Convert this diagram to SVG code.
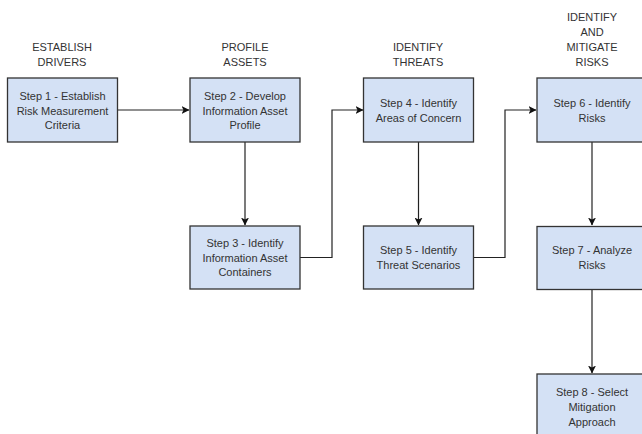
<svg xmlns="http://www.w3.org/2000/svg" width="642" height="434" viewBox="0 0 642 434">
<style>
.box{fill:#d4e1f5;stroke:#333;stroke-width:1.3}
.t{font-family:"Liberation Sans",Arial,sans-serif;font-size:11px;fill:#333;text-anchor:middle}
.c{fill:none;stroke:#222;stroke-width:1.2}
</style>
<defs>
<marker id="a" viewBox="0 0 8 8" refX="7.5" refY="4" markerWidth="8" markerHeight="8" markerUnits="userSpaceOnUse" orient="auto">
<path d="M0,0 L8,4 L0,8 L2,4 Z" fill="#111"/>
</marker>
</defs>
<rect width="642" height="434" fill="#fff"/>
<g id="headers">
<text class="t" x="62" y="51">ESTABLISH</text>
<text class="t" x="62" y="66">DRIVERS</text>
<text class="t" x="245" y="51">PROFILE</text>
<text class="t" x="245" y="66">ASSETS</text>
<text class="t" x="418" y="51">IDENTIFY</text>
<text class="t" x="418" y="66">THREATS</text>
<text class="t" x="592" y="21">IDENTIFY</text>
<text class="t" x="592" y="36">AND</text>
<text class="t" x="592" y="51">MITIGATE</text>
<text class="t" x="592" y="66">RISKS</text>
</g>
<g id="connectors">
<path class="c" d="M117,110 H189" marker-end="url(#a)"/>
<path class="c" d="M245,142 V225" marker-end="url(#a)"/>
<path class="c" d="M300,257.5 H332 V110 H363" marker-end="url(#a)"/>
<path class="c" d="M418.5,142 V225" marker-end="url(#a)"/>
<path class="c" d="M473,257.5 H505 V110 H536" marker-end="url(#a)"/>
<path class="c" d="M592,142 V225" marker-end="url(#a)"/>
<path class="c" d="M592,289 V373" marker-end="url(#a)"/>
</g>
<g id="step1"><rect class="box" x="7.5" y="78" width="110" height="64"/>
<text class="t" x="62.5" y="100">Step 1 - Establish</text>
<text class="t" x="62.5" y="114.5">Risk Measurement</text>
<text class="t" x="62.5" y="129">Criteria</text></g>
<g id="step2"><rect class="box" x="190" y="78" width="110" height="64"/>
<text class="t" x="245" y="100">Step 2 - Develop</text>
<text class="t" x="245" y="114.5">Information Asset</text>
<text class="t" x="245" y="129">Profile</text></g>
<g id="step3"><rect class="box" x="190" y="226" width="110" height="63"/>
<text class="t" x="245" y="247">Step 3 - Identify</text>
<text class="t" x="245" y="261.5">Information Asset</text>
<text class="t" x="245" y="276">Containers</text></g>
<g id="step4"><rect class="box" x="363.5" y="78" width="110" height="64"/>
<text class="t" x="418.5" y="107">Step 4 - Identify</text>
<text class="t" x="418.5" y="121.5">Areas of Concern</text></g>
<g id="step5"><rect class="box" x="363.5" y="226" width="110" height="63"/>
<text class="t" x="418.5" y="254">Step 5 - Identify</text>
<text class="t" x="418.5" y="268.5">Threat Scenarios</text></g>
<g id="step6"><rect class="box" x="537" y="78" width="110" height="64"/>
<text class="t" x="592" y="107">Step 6 - Identify</text>
<text class="t" x="592" y="121.5">Risks</text></g>
<g id="step7"><rect class="box" x="537" y="226.5" width="110" height="63"/>
<text class="t" x="592" y="254">Step 7 - Analyze</text>
<text class="t" x="592" y="268.5">Risks</text></g>
<g id="step8"><rect class="box" x="537" y="374" width="110" height="64"/>
<text class="t" x="592" y="395.5">Step 8 - Select</text>
<text class="t" x="592" y="410.5">Mitigation</text>
<text class="t" x="592" y="425.5">Approach</text></g>
</svg>
